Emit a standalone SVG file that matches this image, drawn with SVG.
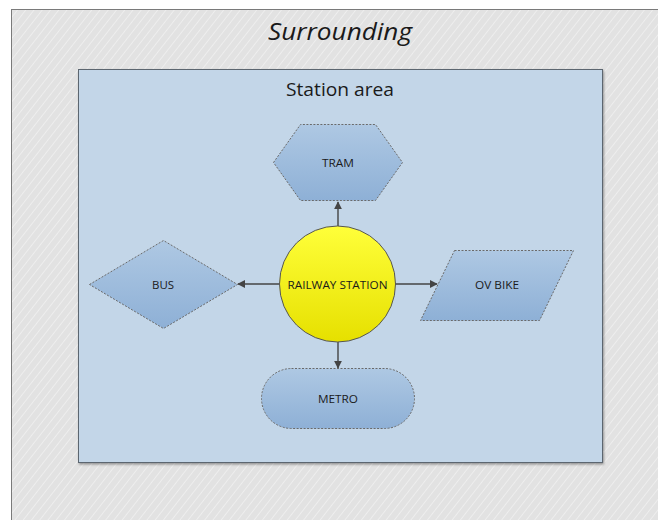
<svg xmlns="http://www.w3.org/2000/svg" width="658" height="520" viewBox="0 0 658 520">
  <style>
    .title { font-family: "Open Sans", "Noto Sans", sans-serif; fill: #1a1a1a; text-anchor: middle; }
    .label { font-family: "Open Sans", "Noto Sans", sans-serif; font-size: 11px; fill: #1a1a1a; text-anchor: middle; dominant-baseline: central; }
    .shape { fill: url(#nodeFill); stroke: #6a6a6a; stroke-width: 1; stroke-dasharray: 2 1.5; }
    .link { stroke: #444; stroke-width: 1.4; fill: none; marker-end: url(#arrow); }
  </style>
  <defs>
    <pattern id="hatch" patternUnits="userSpaceOnUse" width="6.5" height="6.5" patternTransform="rotate(38)">
      <rect width="6.5" height="6.5" fill="#e2e2e2"/>
      <line x1="0" y1="0" x2="0" y2="6.5" stroke="#efefef" stroke-width="1.8"/>
    </pattern>
    <linearGradient id="nodeFill" x1="0" y1="0" x2="0" y2="1">
      <stop offset="0" stop-color="#aec8e3"/>
      <stop offset="1" stop-color="#8eb0d6"/>
    </linearGradient>
    <linearGradient id="sunFill" x1="0" y1="0" x2="0" y2="1">
      <stop offset="0" stop-color="#ffff3a"/>
      <stop offset="1" stop-color="#e6e000"/>
    </linearGradient>
    <filter id="shadow" x="-5%" y="-5%" width="110%" height="110%">
      <feDropShadow dx="1" dy="1.5" stdDeviation="1" flood-color="#000" flood-opacity="0.35"/>
    </filter>
    <marker id="arrow" viewBox="0 0 10 10" refX="9" refY="5" markerWidth="8" markerHeight="8" orient="auto" markerUnits="userSpaceOnUse">
      <path d="M0,0 L10,5 L0,10 Z" fill="#444"/>
    </marker>
  </defs>

  <!-- outer context -->
  <g id="surrounding">
    <rect x="11.5" y="9.5" width="660" height="520" fill="url(#hatch)" stroke="#7a7a7a" stroke-width="1"/>
    <text class="title" x="340" y="40" font-size="24" font-style="italic" textLength="144" lengthAdjust="spacingAndGlyphs">Surrounding</text>
  </g>

  <!-- station area container -->
  <g id="station-area">
    <rect x="78.5" y="69.5" width="524" height="393" fill="#c3d6e8" stroke="#5c6670" stroke-width="1" filter="url(#shadow)"/>
    <text class="title" x="340" y="96" font-size="18" textLength="108" lengthAdjust="spacingAndGlyphs">Station area</text>
  </g>

  <!-- connectors -->
  <g id="connectors">
    <line class="link" x1="338" y1="226" x2="338" y2="202"/>
    <line class="link" x1="279" y1="284" x2="238" y2="284"/>
    <line class="link" x1="395" y1="284" x2="437" y2="284"/>
    <line class="link" x1="338" y1="342" x2="338" y2="368"/>
  </g>

  <g id="tram">
    <polygon class="shape" points="273.5,162.5 300.5,124.5 375.5,124.5 402.5,162.5 375.5,200.5 300.5,200.5"/>
    <text class="label" x="338" y="162" textLength="32" lengthAdjust="spacingAndGlyphs">TRAM</text>
  </g>

  <g id="bus">
    <polygon class="shape" points="89.5,284.5 163.5,240.5 237.5,284.5 163.5,328.5"/>
    <text class="label" x="163" y="284" textLength="22" lengthAdjust="spacingAndGlyphs">BUS</text>
  </g>

  <g id="railway-station">
    <circle cx="337.5" cy="284" r="58" fill="url(#sunFill)" stroke="#555" stroke-width="1"/>
    <text class="label" x="337.5" y="284" textLength="100" lengthAdjust="spacingAndGlyphs">RAILWAY STATION</text>
  </g>

  <g id="ov-bike">
    <polygon class="shape" points="454.5,250.5 573.5,250.5 539.5,320.5 420.5,320.5"/>
    <text class="label" x="497" y="284" textLength="44" lengthAdjust="spacingAndGlyphs">OV BIKE</text>
  </g>

  <g id="metro">
    <rect class="shape" x="261.5" y="368.5" width="153" height="60" rx="30" ry="30"/>
    <text class="label" x="338" y="398" textLength="40" lengthAdjust="spacingAndGlyphs">METRO</text>
  </g>
</svg>
